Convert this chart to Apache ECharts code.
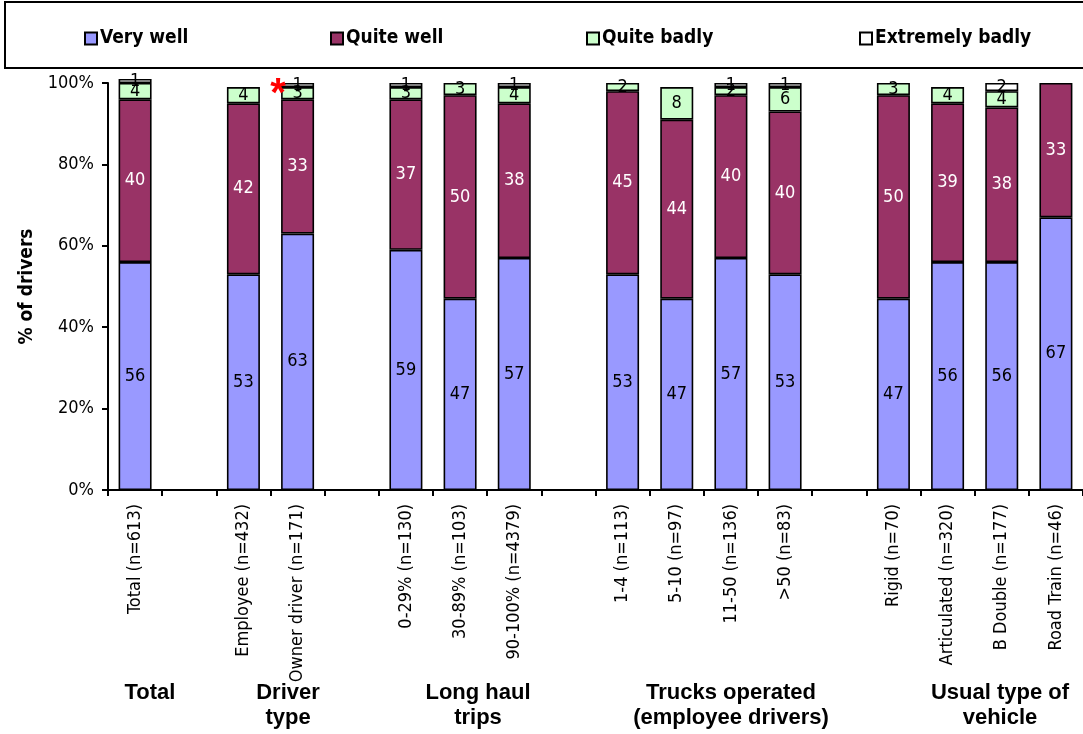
<!DOCTYPE html>
<html>
<head>
<meta charset="utf-8">
<script src="https://cdn.jsdelivr.net/npm/echarts@6/dist/echarts.min.js"></script>
<style>
  html, body { margin: 0; padding: 0; background: #fff; }
  #chart { width: 1083px; height: 734px; }
</style>
</head>
<body>
<div id="chart"></div>
<script>
// Categories along the x axis; empty strings are spacer slots between groups
const categories = [
  'Total (n=613)', '',
  'Employee (n=432)', 'Owner driver (n=171)', '',
  '0-29% (n=130)', '30-89% (n=103)', '90-100% (n=4379)', '',
  '1-4 (n=113)', '5-10 (n=97)', '11-50 (n=136)', '>50 (n=83)', '',
  'Rigid (n=70)', 'Articulated (n=320)', 'B Double (n=177)', 'Road Train (n=46)'
];

// Percent of drivers in each response band (null = no segment / spacer)
const veryWell       = [56, null, 53, 63, null, 59, 47, 57, null, 53, 47, 57, 53, null, 47, 56, 56, 67];
const quiteWell      = [40, null, 42, 33, null, 37, 50, 38, null, 45, 44, 40, 40, null, 50, 39, 38, 33];
const quiteBadly     = [4,  null, 4,  3,  null, 3,  3,  4,  null, 2,  8,  2,  6,  null, 3,  4,  4,  null];
const extremelyBadly = [1,  null, null, 1, null, 1, null, 1, null, null, null, 1, 1, null, null, null, 2, null];

const yTicks = [0, 20, 40, 60, 80, 100];

// Group captions under the category labels: [text, centre x]
const groupLabels = [
  ['Total', 150],
  ['Driver\ntype', 288],
  ['Long haul\ntrips', 478],
  ['Trucks operated\n(employee drivers)', 731],
  ['Usual type of\nvehicle', 1000]
];

const narrow = "'Liberation Sans Narrow', 'Arial Narrow', 'DejaVu Sans Condensed', sans-serif";
const boldFont = "'Liberation Sans', Arial, sans-serif";

function makeSeries(name, data, color, labelColor) {
  return {
    name: name,
    type: 'bar',
    stack: 'all',
    data: data,
    barWidth: 33,
    clip: false,
    itemStyle: { color: color, borderColor: '#000', borderWidth: 1.6 },
    label: {
      show: true,
      position: 'inside',
      color: labelColor,
      fontFamily: narrow,
      fontSize: 18,
      formatter: p => (p.value ? String(p.value) : '')
    },
    emphasis: { disabled: true }
  };
}

const legendNames = ['Very well', 'Quite well', 'Quite badly', 'Extremely badly'];
const legendLeft = [84, 330, 586, 859];

const chart = echarts.init(document.getElementById('chart'), null, { renderer: 'canvas' });

chart.setOption({
  animation: false,
  backgroundColor: '#fff',
  grid: { left: 108, right: -8, top: 83, bottom: 244, containLabel: false },
  legend: legendNames.map((n, i) => ({
    data: [{ name: n, icon: 'rect' }],
    left: legendLeft[i],
    top: 29,
    padding: 0,
    itemWidth: 12,
    itemHeight: 12,
    itemGap: 4,
    selectedMode: false,
    itemStyle: { borderColor: '#000', borderWidth: 2 },
    textStyle: { fontFamily: narrow, fontWeight: 'bold', fontSize: 19, color: '#000', padding: [0, 0, 0, -2] }
  })),
  xAxis: {
    type: 'category',
    data: categories,
    boundaryGap: true,
    axisLine: { lineStyle: { color: '#000', width: 2 } },
    axisTick: { show: true, length: 6, alignWithLabel: false, lineStyle: { color: '#000', width: 2 } },
    axisLabel: {
      interval: 0,
      rotate: 90,
      margin: 14,
      color: '#000',
      fontFamily: narrow,
      fontSize: 18
    }
  },
  yAxis: {
    type: 'value',
    min: 0,
    max: 100,
    interval: 20,
    name: '% of drivers',
    nameLocation: 'middle',
    nameGap: 68,
    nameRotate: 90,
    nameTextStyle: { fontFamily: narrow, fontWeight: 'bold', fontSize: 19, color: '#000' },
    splitLine: { show: false },
    axisLine: { show: true, lineStyle: { color: '#000', width: 2 } },
    axisTick: { show: true, length: 6, lineStyle: { color: '#000', width: 2 } },
    axisLabel: {
      margin: 14,
      color: '#000',
      fontFamily: narrow,
      fontSize: 18,
      formatter: v => (yTicks.includes(v) ? v + '%' : '')
    }
  },
  series: [
    makeSeries('Very well', veryWell, '#9999FF', '#000'),
    makeSeries('Quite well', quiteWell, '#993366', '#fff'),
    makeSeries('Quite badly', quiteBadly, '#CCFFCC', '#000'),
    makeSeries('Extremely badly', extremelyBadly, '#FFFFFF', '#000')
  ],
  graphic: [
    // frame round the legend
    {
      type: 'rect',
      shape: { x: 5, y: 2, width: 1090, height: 66 },
      style: { fill: 'none', stroke: '#000', lineWidth: 2 },
      z: 100
    },
    // significance marker beside the owner driver bar
    {
      type: 'text',
      x: 278,
      y: 75,
      style: { text: '*', fill: '#ff0000', font: "bold 40px " + boldFont, align: 'center', verticalAlign: 'top' },
      z: 100
    }
  ].concat(groupLabels.map(([t, x]) => ({
    type: 'text',
    x: x,
    y: 680,
    style: {
      text: t,
      fill: '#000',
      font: "bold 22px " + boldFont,
      align: 'center',
      verticalAlign: 'top',
      lineHeight: 25
    },
    z: 100
  })))
});
</script>
</body>
</html>
